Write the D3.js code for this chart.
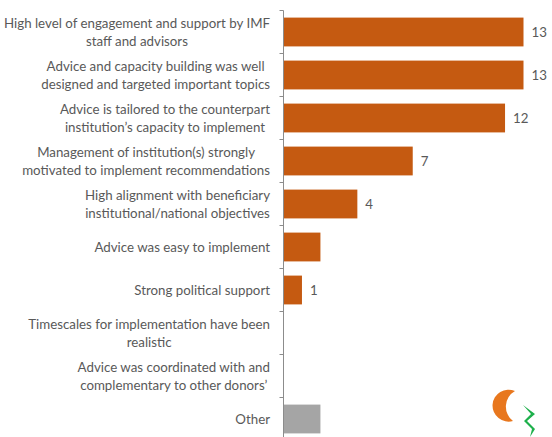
<!DOCTYPE html>
<html>
<head>
<meta charset="utf-8">
<script src="https://cdn.jsdelivr.net/npm/d3@7"></script>
<style>
  html, body { margin: 0; padding: 0; background: #fff; }
  svg { display: block; }
</style>
</head>
<body>
<svg id="chart" width="552" height="437"></svg>
<script>
// Survey: factors contributing to successful implementation of advice
const categories = [
  ["High level of engagement and support by IMF", "staff and advisors"],
  ["Advice and capacity building was well", "designed and targeted important topics"],
  ["Advice is tailored to the counterpart", "institution\u2019s capacity to implement"],
  ["Management of institution(s) strongly", "motivated to implement recommendations"],
  ["High alignment with beneficiary", "institutional/national objectives"],
  ["Advice was easy to implement"],
  ["Strong political support"],
  ["Timescales for implementation have been", "realistic"],
  ["Advice was coordinated with and", "complementary to other donors\u2019"],
  ["Other"]
];
const values = [13, 13, 12, 7, 4, 2, 1, 0, 0, 2];
// Only some bars carry a value label
const shownLabels = [true, true, true, true, true, false, true, false, false, false];
const barColors = ["#C55A11", "#C55A11", "#C55A11", "#C55A11", "#C55A11", "#C55A11", "#C55A11", "#C55A11", "#C55A11", "#A5A5A5"];

const svg = d3.select("#chart");
const keys = categories.map((c, i) => i);

const axisX = 283.5;
const y = d3.scaleBand()
  .domain(keys)
  .range([10.5, 440.5])
  .paddingInner(0.33)
  .paddingOuter(0.165);

const x = d3.scaleLinear()
  .domain([0, 13])
  .range([axisX, 523.5]);

const font = "Lato, 'Open Sans', sans-serif";
const textColor = "#595959";

// Bars
svg.append("g")
  .selectAll("rect")
  .data(values)
  .join("rect")
  .attr("x", x(0))
  .attr("y", (d, i) => y(i))
  .attr("width", d => x(d) - x(0))
  .attr("height", y.bandwidth())
  .attr("fill", (d, i) => barColors[i]);

// Value labels
svg.append("g")
  .selectAll("text")
  .data(values.map((v, i) => ({ v, i })).filter(d => shownLabels[d.i]))
  .join("text")
  .attr("x", d => x(d.v) + 8)
  .attr("y", d => y(d.i) + y.bandwidth() / 2)
  .attr("dy", "0.35em")
  .attr("font-family", font)
  .attr("font-size", 13.3)
  .attr("fill", textColor)
  .text(d => d.v);

// Category axis line with ticks between categories
const step = y.step();
const axis = svg.append("g").attr("stroke", "#8C8C8C").attr("stroke-width", 1);
axis.append("line")
  .attr("x1", axisX).attr("x2", axisX)
  .attr("y1", y.range()[0]).attr("y2", y.range()[1]);
axis.selectAll("line.tick")
  .data(d3.range(keys.length + 1))
  .join("line")
  .attr("class", "tick")
  .attr("x1", axisX - 4).attr("x2", axisX)
  .attr("y1", i => y.range()[0] + i * step)
  .attr("y2", i => y.range()[0] + i * step);

// Category labels, centred on each line block and right-aligned to the axis
const lineH = 18;
const labels = svg.append("g")
  .attr("font-family", font)
  .attr("font-size", 13.3)
  .attr("fill", textColor);
categories.forEach((lines, i) => {
  const cy = y(i) + y.bandwidth() / 2;
  const t = labels.append("text");
  lines.forEach((ln, j) => {
    t.append("tspan")
      .attr("x", 0)
      .attr("y", cy - (lines.length - 1) * lineH / 2 + j * lineH)
      .attr("dy", "0.35em")
      .text(ln);
  });
});
// Centre each wrapped block, then right-align it at the axis
labels.selectAll("text").each(function () {
  const t = d3.select(this);
  const widths = [];
  t.selectAll("tspan").each(function () { widths.push(this.getComputedTextLength()); });
  const maxW = d3.max(widths);
  const right = 270;
  t.selectAll("tspan").attr("x", (d, j) => right - maxW + (maxW - widths[j]) / 2);
});

// Logo mark
const logo = svg.append("g");
logo.append("path")
  .attr("d", "M515,391 A16,16 0 1,0 513,421 A18,18 0 0,1 515,391 Z")
  .attr("fill", "#E8771E");
logo.append("path")
  .attr("d", "M523,405 L535,414 L527,421 L535,429 L530,437 L532,429 L524,421 L531,414 Z")
  .attr("fill", "#1DB04B");
</script>
</body>
</html>
